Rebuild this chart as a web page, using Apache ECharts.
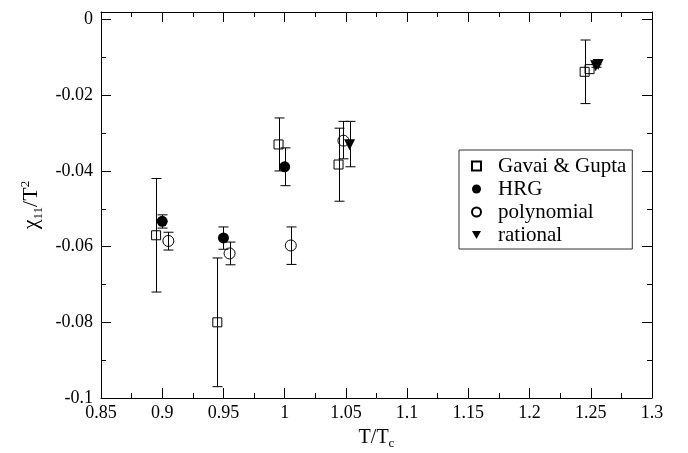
<!DOCTYPE html>
<html>
<head>
<meta charset="utf-8">
<script src="https://cdn.jsdelivr.net/npm/echarts@6/dist/echarts.min.js"></script>
<style>
  html, body { margin: 0; padding: 0; background: #fff; }
  #chart { width: 688px; height: 453px; }
</style>
</head>
<body>
<div id="chart"></div>
<script>
// each row: [T/Tc, chi11/T^2, upper end of bar, lower end of bar] (null = no bar)
var gavaiGupta = [
  [0.895, -0.057, -0.042, -0.072],
  [0.945, -0.080, -0.063, -0.097],
  [0.995, -0.033, -0.026, -0.040],
  [1.044, -0.0383, -0.0287, -0.048],
  [1.245, -0.0138, -0.0054, -0.0222],
  [1.249, -0.0131, null, null]
];
var hrg = [
  [0.900, -0.0533, -0.0516, -0.0551],
  [0.950, -0.0577, -0.0548, -0.0607],
  [1.000, -0.0389, -0.0339, -0.0439]
];
var polynomial = [
  [0.905, -0.0585, -0.0562, -0.0609],
  [0.955, -0.0618, -0.0588, -0.0648],
  [1.005, -0.0597, -0.0548, -0.0647],
  [1.048, -0.0320, -0.0269, -0.0368]
];
var rational = [
  [1.053, -0.0331, -0.0269, -0.0389],
  [1.254, -0.0122, -0.0118, -0.0126],
  [1.256, -0.0119, null, null]
];

var xMin = 0.85, xMax = 1.3, xStep = 0.05;
var yMin = -0.1, yMax = 0.002, yStep = 0.02;

var FONT = 'Liberation Serif';
var TRI_DOWN = 'path://M0,0 L10,0 L5,9 Z';

var chart = echarts.init(document.getElementById('chart'));

function fmt(v) {
  return parseFloat(v.toFixed(4)).toString();
}

function errorBars(rows) {
  return {
    type: 'custom',
    silent: true,
    z: 1,
    data: rows.filter(function (r) { return r[2] != null; })
              .map(function (r) { return [r[0], r[2], r[3]]; }),
    encode: { x: 0, y: [1, 2] },
    renderItem: function (params, api) {
      var hi = api.coord([api.value(0), api.value(1)]);
      var lo = api.coord([api.value(0), api.value(2)]);
      var x = Math.round(hi[0]) + 0.5;
      var hw = 5;
      var st = { stroke: '#000', lineWidth: 1 };
      return {
        type: 'group',
        children: [
          { type: 'line', shape: { x1: x, y1: hi[1], x2: x, y2: lo[1] }, style: st },
          { type: 'line', shape: { x1: x - hw, y1: hi[1], x2: x + hw, y2: hi[1] }, style: st },
          { type: 'line', shape: { x1: x - hw, y1: lo[1], x2: x + hw, y2: lo[1] }, style: st }
        ]
      };
    }
  };
}

function points(name, rows, symbol, size, filled) {
  return {
    name: name,
    type: 'scatter',
    z: 3,
    symbol: symbol,
    symbolSize: size,
    itemStyle: {
      color: filled ? '#000' : 'rgba(255,255,255,0)',
      borderColor: '#000',
      borderWidth: filled ? 0 : 1,
      opacity: 1
    },
    data: rows.map(function (r) { return [r[0], r[1]]; })
  };
}

function axisBase(isX, showLabels) {
  return {
    type: 'value',
    min: isX ? xMin : yMin,
    max: isX ? xMax : yMax,
    interval: isX ? xStep : yStep,
    axisLine: { show: true, onZero: false, lineStyle: { color: '#000', width: 1 } },
    axisTick: { show: true, inside: true, length: 10, lineStyle: { color: '#000' } },
    minorTick: { show: true, splitNumber: 2, length: 5, lineStyle: { color: '#000' } },
    splitLine: { show: false },
    minorSplitLine: { show: false },
    axisLabel: {
      show: showLabels,
      color: '#000',
      fontFamily: FONT,
      fontSize: 18,
      margin: isX ? 6 : 8,
      showMaxLabel: isX,
      formatter: fmt
    }
  };
}

var xBottom = axisBase(true, true);
xBottom.position = 'bottom';
xBottom.name = '{a|T/T}{b|c}';
xBottom.nameLocation = 'middle';
xBottom.nameGap = 26;
xBottom.nameTextStyle = {
  color: '#000',
  rich: {
    a: { fontFamily: FONT, fontSize: 20, color: '#000', lineHeight: 24 },
    b: { fontFamily: FONT, fontSize: 13, color: '#000', verticalAlign: 'bottom', lineHeight: 24, padding: [10, 0, 0, 0] }
  }
};
var xTop = axisBase(true, false);
xTop.position = 'top';

var yLeft = axisBase(false, true);
yLeft.position = 'left';
yLeft.name = '{a|χ}{b|11}{a|/T}{c|2}';
yLeft.nameLocation = 'middle';
yLeft.nameGap = 54;
yLeft.nameRotate = 90;
yLeft.nameTextStyle = {
  color: '#000',
  rich: {
    a: { fontFamily: FONT, fontSize: 22, color: '#000', lineHeight: 26 },
    b: { fontFamily: FONT, fontSize: 13, color: '#000', verticalAlign: 'bottom', lineHeight: 26, padding: [10, 0, 0, 0] },
    c: { fontFamily: FONT, fontSize: 13, color: '#000', verticalAlign: 'top', lineHeight: 26, padding: [0, 0, 8, 0] }
  }
};
var yRight = axisBase(false, false);
yRight.position = 'right';

var option = {
  animation: false,
  backgroundColor: '#fff',
  grid: { left: 101, right: 36, top: 12, bottom: 55, containLabel: false, outerBoundsMode: 'none' },
  legend: {
    data: ['Gavai & Gupta', 'HRG', 'polynomial', 'rational'],
    orient: 'vertical',
    left: 459,
    top: 150,
    padding: [5, 6, 3, 12],
    itemGap: 1,
    itemWidth: 9,
    itemHeight: 9,
    borderColor: '#333',
    borderWidth: 1,
    backgroundColor: '#fff',
    selectedMode: false,
    textStyle: { fontFamily: FONT, fontSize: 21, color: '#000', lineHeight: 22, padding: [0, 0, 0, 12] }
  },
  xAxis: [xBottom, xTop],
  yAxis: [yLeft, yRight],
  series: [
    errorBars(gavaiGupta),
    errorBars(hrg),
    errorBars(polynomial),
    errorBars(rational),
    points('Gavai & Gupta', gavaiGupta, 'rect', 9, false),
    points('HRG', hrg, 'circle', 11, true),
    points('polynomial', polynomial, 'circle', 11, false),
    points('rational', rational, TRI_DOWN, 11, true)
  ]
};

chart.setOption(option);
</script>
</body>
</html>
